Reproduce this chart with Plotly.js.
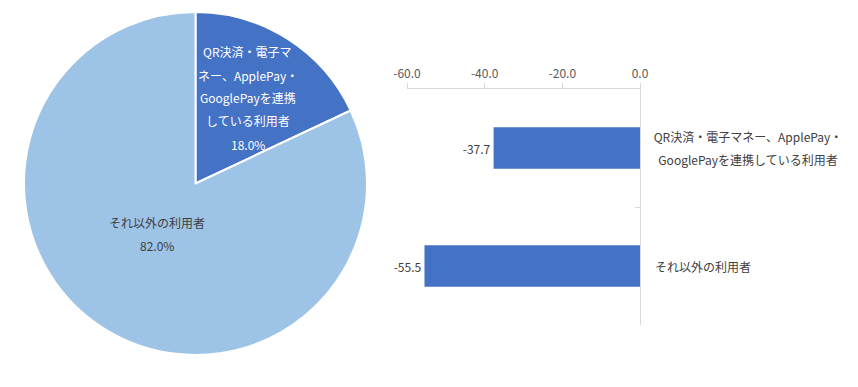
<!DOCTYPE html>
<html>
<head>
<meta charset="utf-8">
<script src="https://cdn.plot.ly/plotly-3.0.1.min.js"></script>
<style>html,body{margin:0;padding:0;background:#fff}#chart{width:858px;height:387px}</style>
</head>
<body>
<div id="chart"></div>
<script>
// ---- data ----
const pieLabels = ['QR決済・電子マネー、ApplePay・GooglePayを連携している利用者', 'それ以外の利用者'];
const pieValues = [18.0, 82.0];
const pieLabelLines = [['QR決済・電子マ', 'ネー、ApplePay・', 'GooglePayを連携', 'している利用者'], ['それ以外の利用者']];
const pieColors = ['#4472C4', '#9DC3E6'];

const barCategories = ['QR決済・電子マネー、ApplePay・GooglePayを連携している利用者', 'それ以外の利用者'];
const barLabelLines = [['QR決済・電子マネー、ApplePay・', 'GooglePayを連携している利用者'], ['それ以外の利用者']];
const barValues = [-37.7, -55.5];
const xTickVals = [-60, -40, -20, 0];
const xTickText = ['-60.0', '-40.0', '-20.0', '0.0'];

// ---- layout helpers ----
const W = 858, H = 387;
const FONT = '"Noto Sans CJK JP", "Noto Sans", sans-serif';
const px = (x) => x / W, py = (y) => 1 - y / H;

const pieTrace = {
  type: 'pie',
  labels: pieLabels,
  values: pieValues,
  sort: false,
  direction: 'clockwise',
  rotation: 0,
  textinfo: 'none',
  hoverinfo: 'none',
  marker: {colors: pieColors, line: {color: '#ffffff', width: 2}},
  domain: {x: [px(24), px(367)], y: [py(355), py(12)]},
  showlegend: false
};

const barTrace = {
  type: 'bar',
  orientation: 'h',
  y: barCategories,
  x: barValues,
  marker: {color: '#4472C4'},
  text: barValues.map(v => v.toFixed(1)),
  textposition: 'outside',
  textfont: {family: FONT, size: 12, color: '#404040'},
  cliponaxis: false,
  hoverinfo: 'none',
  xaxis: 'x',
  yaxis: 'y',
  showlegend: false
};

const annotations = [];
// pie slice labels
const pieLabelPos = [[248, 98], [157, 234]];
const pieTextColors = ['#ffffff', '#404040'];
pieLabelLines.forEach((lines, k) => {
  const all = lines.concat([pieValues[k].toFixed(1) + '%']);
  const n = all.length, mid = (n - 1) / 2;
  all.forEach((t, i) => {
    annotations.push({
      xref: 'paper', yref: 'paper',
      x: px(pieLabelPos[k][0]), y: py(pieLabelPos[k][1] + (i - mid) * 23),
      xanchor: 'center', yanchor: 'middle',
      text: t, showarrow: false,
      font: {family: FONT, size: 12, color: pieTextColors[k]}
    });
  });
});
// bar category labels
barLabelLines.forEach((lines, k) => {
  const n = lines.length, mid = (n - 1) / 2;
  lines.forEach((t, i) => {
    const a = {
      xref: 'x', yref: 'y', x: 0, y: barCategories[k],
      xanchor: 'left', yanchor: 'middle',
      yshift: (mid - i) * 23,
      text: t, showarrow: false,
      font: {family: FONT, size: 12, color: '#404040'}
    };
    if (n > 1) { a.width = 192; a.align = 'center'; a.xshift = 10; }
    else { a.align = 'left'; a.xshift = 13; }
    annotations.push(a);
  });
});

const layout = {
  width: W, height: H,
  margin: {l: 0, r: 0, t: 0, b: 0},
  paper_bgcolor: '#ffffff', plot_bgcolor: 'rgba(0,0,0,0)',
  font: {family: FONT, size: 12, color: '#595959'},
  bargap: 0.65,
  xaxis: {
    domain: [px(407), px(640)],
    anchor: 'y',
    side: 'top',
    range: [-60, 0],
    tickmode: 'array',
    tickvals: xTickVals,
    ticktext: xTickText,
    ticks: 'outside', ticklen: 5, tickcolor: '#d9d9d9',
    showline: true, linecolor: '#d9d9d9', linewidth: 1,
    showgrid: false, zeroline: false,
    tickfont: {family: FONT, size: 12, color: '#595959'},
    fixedrange: true
  },
  yaxis: {
    domain: [py(325), py(89)],
    anchor: 'x',
    type: 'category',
    autorange: 'reversed',
    side: 'right',
    showticklabels: false,
    showline: true, linecolor: '#d9d9d9', linewidth: 1,
    ticks: 'inside', ticklen: 5, tickcolor: '#d9d9d9', tickson: 'boundaries',
    showgrid: false, zeroline: false,
    fixedrange: true
  },
  annotations: annotations
};

Plotly.newPlot('chart', [pieTrace, barTrace], layout, {displayModeBar: false, staticPlot: true});
</script>
</body>
</html>
